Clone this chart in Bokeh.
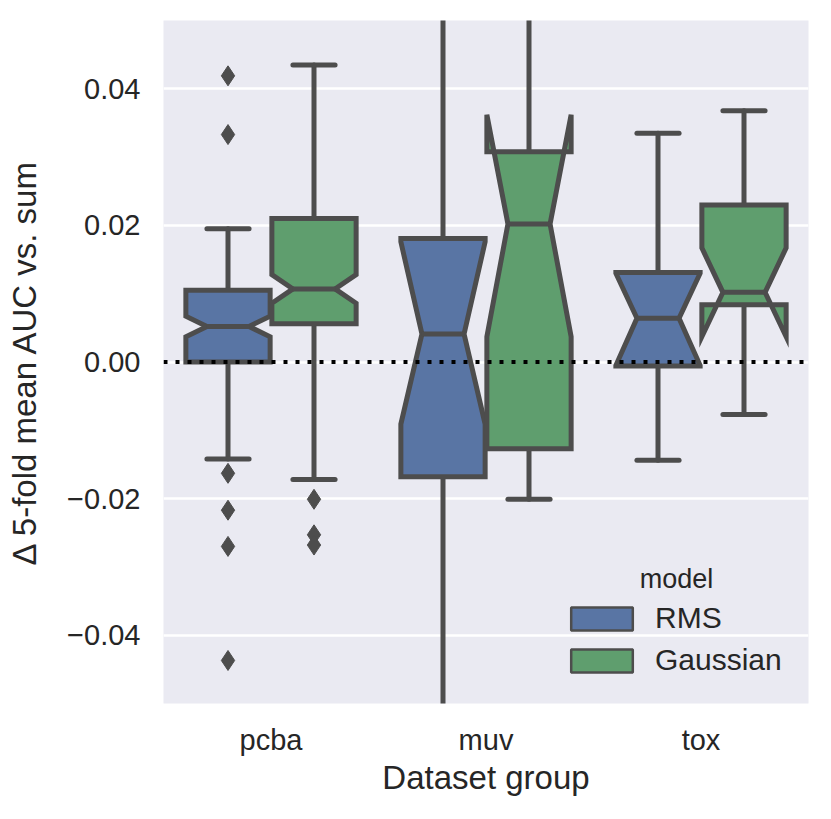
from bokeh.plotting import figure
from bokeh.models import (FixedTicker, Range1d, Legend, LegendItem,
                          Label, Span, CustomJSTickFormatter)
from bokeh.embed import file_html
from bokeh.resources import INLINE

# ---------------- data ----------------
groups = ["pcba", "muv", "tox"]
models = ["RMS", "Gaussian"]
colors = ["#5975a4", "#5f9e6e"]

rms_q1 = [0.0000, -0.0168, -0.0006]
rms_med = [0.0052, 0.0041, 0.0064]
rms_q3 = [0.0105, 0.0181, 0.0131]
rms_notch_lo = [0.0037, -0.0091, -0.0005]
rms_notch_hi = [0.0067, 0.0176, 0.0130]
rms_whisk_lo = [-0.0142, -0.0650, -0.0144]
rms_whisk_hi = [0.0195, 0.0580, 0.0335]

gau_q1 = [0.0056, -0.0127, 0.0084]
gau_med = [0.0107, 0.0202, 0.0102]
gau_q3 = [0.0210, 0.0308, 0.0230]
gau_notch_lo = [0.0086, 0.0037, 0.0037]
gau_notch_hi = [0.0128, 0.0362, 0.0167]
gau_whisk_lo = [-0.0172, -0.0201, -0.0077]
gau_whisk_hi = [0.0435, 0.0600, 0.0368]

out_group = ["pcba"] * 6 + ["pcba"] * 3
out_model = ["RMS"] * 6 + ["Gaussian"] * 3
out_value = [0.0419, 0.0333, -0.0163, -0.0217, -0.0270, -0.0437,
             -0.0201, -0.0253, -0.0268]

y_ticks = [-0.04, -0.02, 0.0, 0.02, 0.04]

# ---------------- style ----------------
GRAY = "#4d4d4d"
TEXT = "#262626"
FONT = "Liberation Sans"
BOX_W = 0.392
OFFS = {"RMS": -0.2, "Gaussian": 0.2}
NAN = float("nan")

p = figure(width=815, height=803, output_backend="svg", toolbar_location=None,
           x_range=Range1d(-0.5, 2.5), y_range=Range1d(-0.05, 0.05),
           min_border_left=163, min_border_right=7, min_border_top=20,
           min_border_bottom=100)
p.background_fill_color = "#eaeaf2"
p.border_fill_color = "white"
p.outline_line_color = None
p.xgrid.visible = False
p.ygrid.grid_line_color = "white"
p.ygrid.grid_line_width = 2.5

stats = {
    "RMS": (rms_q1, rms_med, rms_q3, rms_notch_lo, rms_notch_hi, rms_whisk_lo, rms_whisk_hi),
    "Gaussian": (gau_q1, gau_med, gau_q3, gau_notch_lo, gau_notch_hi, gau_whisk_lo, gau_whisk_hi),
}

legend_items = []
for mi, m in enumerate(models):
    q1, med, q3, nlo, nhi, wlo, whi = stats[m]
    pos = [gi + OFFS[m] for gi in range(len(groups))]
    # whiskers
    p.segment(x0=pos + pos, y0=q1 + q3, x1=pos + pos, y1=wlo + whi,
              line_color=GRAY, line_width=5, line_cap="round")
    # caps
    cl = [x - BOX_W / 4 for x in pos]
    cr = [x + BOX_W / 4 for x in pos]
    p.segment(x0=cl + cl, y0=wlo + whi, x1=cr + cr, y1=wlo + whi,
              line_color=GRAY, line_width=5, line_cap="round")
    # notched boxes
    xs, ys = [], []
    for i, x in enumerate(pos):
        l, r = x - BOX_W / 2, x + BOX_W / 2
        a, b = x - BOX_W / 4, x + BOX_W / 4
        xs.append([l, l, a, l, l, r, r, b, r, r])
        ys.append([q1[i], nlo[i], med[i], nhi[i], q3[i], q3[i], nhi[i], med[i], nlo[i], q1[i]])
    p.patches(xs=xs, ys=ys, fill_color=colors[mi], line_color=GRAY,
              line_width=5, line_join="miter")
    # medians
    p.segment(x0=cl, y0=med, x1=cr, y1=med, line_color=GRAY, line_width=5)
    # legend proxy (draws nothing in the plot)
    r = p.quad(left=[NAN], right=[NAN], top=[NAN], bottom=[NAN], fill_color=colors[mi],
               line_color=GRAY, line_width=2.5)
    legend_items.append(LegendItem(label=m, renderers=[r]))

# outliers
ox = [groups.index(g) + OFFS[m] for g, m in zip(out_group, out_model)]
p.scatter(x=ox, y=out_value, marker="diamond", size=20, fill_color=GRAY,
          line_color=GRAY, line_width=1)

# zero reference line
p.add_layout(Span(location=0, dimension="width", line_color="black",
                  line_dash="4 8", line_width=4))

# axes
p.xaxis.ticker = FixedTicker(ticks=list(range(len(groups))))
p.xaxis.major_label_overrides = {i: g for i, g in enumerate(groups)}
p.yaxis.ticker = FixedTicker(ticks=y_ticks)
p.yaxis.formatter = CustomJSTickFormatter(code="return tick.toFixed(2).replace('-', '\u2212');")
for ax in (p.xaxis[0], p.yaxis[0]):
    ax.axis_line_color = None
    ax.major_tick_line_color = None
    ax.minor_tick_line_color = None
    ax.major_label_text_font = FONT
    ax.major_label_text_font_size = "29px"
    ax.major_label_text_color = TEXT
    ax.axis_label_text_font = FONT
    ax.axis_label_text_font_size = "33px"
    ax.axis_label_text_font_style = "normal"
    ax.axis_label_text_color = TEXT
p.xaxis.axis_label = "Dataset group"
p.yaxis.axis_label = "\u0394 5-fold mean AUC vs. sum"
p.xaxis.major_label_standoff = 14
p.xaxis.axis_label_standoff = 0
p.yaxis.major_label_standoff = 17
p.yaxis.axis_label_standoff = 21

legend = Legend(items=legend_items, location=(400, 26), padding=0, margin=0,
                spacing=8, glyph_width=77, glyph_height=29, label_height=29,
                label_standoff=15, label_text_font=FONT, label_text_font_size="30px",
                label_text_color=TEXT, background_fill_alpha=0, border_line_alpha=0)
p.add_layout(legend)
p.add_layout(Label(x=1.886, y=-0.0317, text="model", text_align="center",
                   text_baseline="middle", text_font=FONT, text_font_size="27px",
                   text_color=TEXT))

open("out.html", "w").write(file_html(p, INLINE))
